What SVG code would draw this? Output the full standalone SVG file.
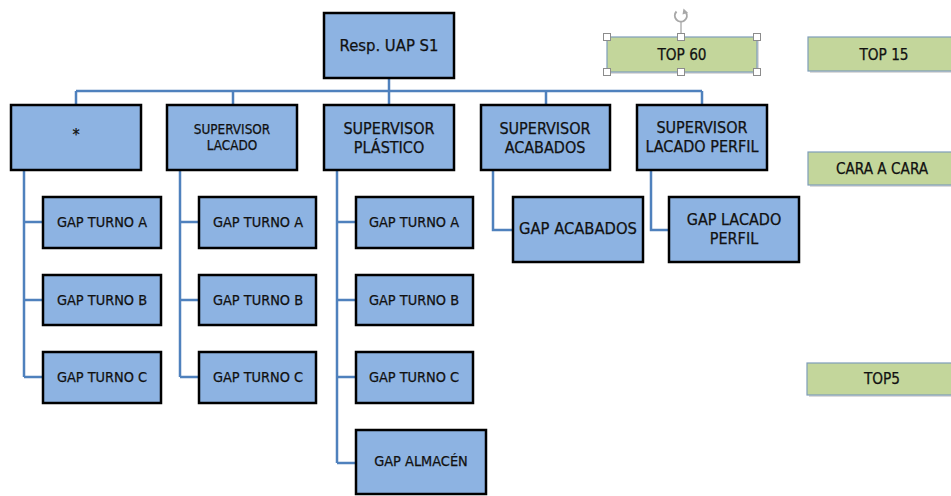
<svg xmlns="http://www.w3.org/2000/svg" width="951" height="496" viewBox="0 0 951 496">
  <style>
    .box { fill: #8DB3E2; stroke: #000; stroke-width: 2.5; }
    .tag { fill: #C3D69B; stroke: #7F9DB9; stroke-width: 1.2; }
    .shadow { fill: #B8B8B8; opacity: 0.5; }
    .wire { fill: none; stroke: #4F81BD; stroke-width: 2.5; }
    text { font-family: "DejaVu Sans Condensed", "DejaVu Sans", sans-serif; fill: #111; stroke: #111; stroke-width: 0.25; text-anchor: middle; }
    .sm { font-size: 14.4px; }
    .md { font-size: 16px; }
    .xs { font-size: 13.4px; }
    .gr { font-size: 15.2px; }
    .handle { fill: #fff; stroke: #8C8C8C; stroke-width: 1; }
  </style>

  <!-- connectors -->
  <g id="connectors">
    <path class="wire" d="M389 78 V91 M76 91 H702 M76 91 V105 M233 91 V105 M389 91 V105 M546 91 V105 M702 91 V105"/>
    <path class="wire" d="M24 170 V377 M24 222 H43 M24 300 H43 M24 377 H43"/>
    <path class="wire" d="M180 170 V377 M180 222 H199 M180 300 H199 M180 377 H199"/>
    <path class="wire" d="M337 170 V463 M337 222 H356 M337 300 H356 M337 377 H356 M337 463 H356"/>
    <path class="wire" d="M493 170 V230 H513"/>
    <path class="wire" d="M651 170 V230 H669"/>
  </g>

  <!-- root -->
  <g id="resp-uap-s1">
    <rect class="box" x="324" y="13" width="130" height="65"/>
    <text x="389" y="51" style="font-size:16.5px">Resp. UAP S1</text>
  </g>

  <!-- supervisors -->
  <g id="sup-asterisk">
    <rect class="box" x="11" y="105" width="130" height="65"/>
    <text class="md" x="76" y="140">*</text>
  </g>
  <g id="sup-lacado">
    <rect class="box" x="167" y="105" width="130" height="65"/>
    <text class="xs" x="232" y="134">SUPERVISOR</text>
    <text class="xs" x="232" y="150">LACADO</text>
  </g>
  <g id="sup-plastico">
    <rect class="box" x="324" y="105" width="130" height="65"/>
    <text class="md" x="389" y="134">SUPERVISOR</text>
    <text class="md" x="389" y="153">PLÁSTICO</text>
  </g>
  <g id="sup-acabados">
    <rect class="box" x="481" y="105" width="129" height="65"/>
    <text class="md" x="545" y="134">SUPERVISOR</text>
    <text class="md" x="545" y="153">ACABADOS</text>
  </g>
  <g id="sup-lacado-perfil">
    <rect class="box" x="637" y="105" width="130" height="65"/>
    <text class="md" x="702" y="133">SUPERVISOR</text>
    <text class="md" x="702" y="152">LACADO PERFIL</text>
  </g>

  <!-- column 1 -->
  <g id="c1-turno-a">
    <rect class="box" x="43" y="197" width="118" height="51"/>
    <text class="sm" x="102" y="227">GAP TURNO A</text>
  </g>
  <g id="c1-turno-b">
    <rect class="box" x="43" y="275" width="118" height="50"/>
    <text class="sm" x="102" y="305">GAP TURNO B</text>
  </g>
  <g id="c1-turno-c">
    <rect class="box" x="43" y="352" width="118" height="51"/>
    <text class="sm" x="102" y="382">GAP TURNO C</text>
  </g>

  <!-- column 2 -->
  <g id="c2-turno-a">
    <rect class="box" x="199" y="197" width="117" height="51"/>
    <text class="sm" x="258" y="227">GAP TURNO A</text>
  </g>
  <g id="c2-turno-b">
    <rect class="box" x="199" y="275" width="117" height="50"/>
    <text class="sm" x="258" y="305">GAP TURNO B</text>
  </g>
  <g id="c2-turno-c">
    <rect class="box" x="199" y="352" width="117" height="51"/>
    <text class="sm" x="258" y="382">GAP TURNO C</text>
  </g>

  <!-- column 3 -->
  <g id="c3-turno-a">
    <rect class="box" x="356" y="197" width="117" height="51"/>
    <text class="sm" x="414" y="227">GAP TURNO A</text>
  </g>
  <g id="c3-turno-b">
    <rect class="box" x="356" y="275" width="117" height="50"/>
    <text class="sm" x="414" y="305">GAP TURNO B</text>
  </g>
  <g id="c3-turno-c">
    <rect class="box" x="356" y="352" width="117" height="51"/>
    <text class="sm" x="414" y="382">GAP TURNO C</text>
  </g>
  <g id="c3-almacen">
    <rect class="box" x="356" y="430" width="130" height="64"/>
    <text class="sm" x="421" y="466">GAP ALMACÉN</text>
  </g>

  <!-- column 4 and 5 -->
  <g id="gap-acabados">
    <rect class="box" x="513" y="197" width="130" height="65"/>
    <text class="md" x="578" y="234" style="font-size:16.4px">GAP ACABADOS</text>
  </g>
  <g id="gap-lacado-perfil">
    <rect class="box" x="669" y="197" width="130" height="65"/>
    <text class="md" x="734" y="225">GAP LACADO</text>
    <text class="md" x="734" y="244">PERFIL</text>
  </g>

  <!-- legend tags -->
  <g id="top-60">
    <rect class="shadow" x="609" y="39" width="150" height="35"/>
    <rect class="tag" x="607" y="37" width="150" height="35"/>
    <text class="gr" x="682" y="60">TOP 60</text>
    <!-- selection frame -->
    <line x1="681" y1="22" x2="681" y2="37" stroke="#8C8C8C" stroke-width="1"/>
    <path d="M676.5 11.5 A6 6 0 1 0 686 12.5" fill="none" stroke="#A8A8A8" stroke-width="2"/>
    <path d="M683.5 8.5 L688 12.8 L682.5 14.5 Z" fill="#A8A8A8"/>
    <rect class="handle" x="603.5" y="33.5" width="7" height="7"/>
    <rect class="handle" x="677.5" y="33.5" width="7" height="7"/>
    <rect class="handle" x="753.5" y="33.5" width="7" height="7"/>
    <rect class="handle" x="603.5" y="68.5" width="7" height="7"/>
    <rect class="handle" x="677.5" y="68.5" width="7" height="7"/>
    <rect class="handle" x="753.5" y="68.5" width="7" height="7"/>
  </g>
  <g id="top-15">
    <rect class="shadow" x="810" y="39" width="150" height="34"/>
    <rect class="tag" x="808" y="37" width="150" height="34"/>
    <text class="gr" x="884" y="60">TOP 15</text>
  </g>
  <g id="cara-a-cara">
    <rect class="shadow" x="810" y="154" width="150" height="33"/>
    <rect class="tag" x="808" y="152" width="150" height="33"/>
    <text class="gr" x="882" y="174">CARA A CARA</text>
  </g>
  <g id="top5">
    <rect class="shadow" x="809" y="365" width="150" height="32"/>
    <rect class="tag" x="807" y="363" width="150" height="32"/>
    <text class="gr" x="882" y="384">TOP5</text>
  </g>
</svg>
